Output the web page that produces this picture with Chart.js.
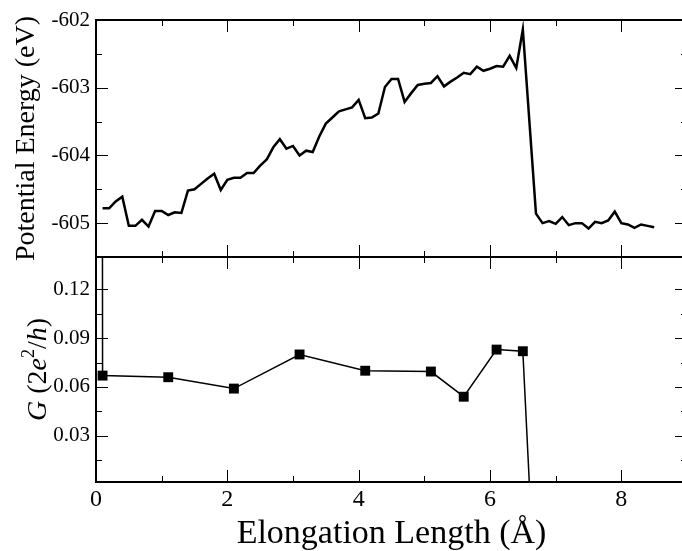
<!DOCTYPE html>
<html>
<head>
<meta charset="utf-8">
<script src="https://cdn.jsdelivr.net/npm/chart.js@4.4.1/dist/chart.umd.min.js"></script>
<style>
html, body { margin: 0; padding: 0; background: #fff; }
#wrap { width: 682px; height: 551px; overflow: hidden; position: relative; }
#chart { position: absolute; left: 0; top: 0; }
</style>
</head>
<body>
<div id="wrap"><canvas id="chart" width="690" height="551"></canvas></div>
<script>
// elongation (Å) and potential energy (eV)
var energyX = [0.1, 0.2, 0.3, 0.4, 0.5, 0.6, 0.7, 0.8, 0.9, 1.0,
               1.1, 1.2, 1.3, 1.4, 1.5, 1.6, 1.7, 1.8, 1.9, 2.0,
               2.1, 2.2, 2.3, 2.4, 2.5, 2.6, 2.7, 2.8, 2.9, 3.0,
               3.1, 3.2, 3.3, 3.4, 3.5, 3.6, 3.7, 3.8, 3.9, 4.0,
               4.1, 4.2, 4.3, 4.4, 4.5, 4.6, 4.7, 4.8, 4.9, 5.0,
               5.1, 5.2, 5.3, 5.4, 5.5, 5.6, 5.7, 5.8, 5.9, 6.0,
               6.1, 6.2, 6.3, 6.4, 6.5, 6.7, 6.8, 6.9, 7.0,
               7.1, 7.2, 7.3, 7.4, 7.5, 7.6, 7.7, 7.8, 7.9, 8.0,
               8.1, 8.2, 8.3, 8.4, 8.5];
var energyY = [-604.78, -604.78, -604.68, -604.61, -605.04, -605.04, -604.95, -605.05, -604.82, -604.82,
               -604.88, -604.84, -604.85, -604.52, -604.50, -604.42, -604.34, -604.27, -604.51, -604.36,
               -604.33, -604.33, -604.26, -604.26, -604.15, -604.06, -603.88, -603.76, -603.90, -603.86,
               -604.00, -603.93, -603.95, -603.72, -603.53, -603.44, -603.35, -603.32, -603.29, -603.18,
               -603.45, -603.44, -603.38, -602.99, -602.87, -602.87, -603.21, -603.08, -602.96, -602.94,
               -602.93, -602.83, -602.98, -602.91, -602.85, -602.78, -602.80, -602.69, -602.75, -602.72,
               -602.68, -602.69, -602.53, -602.71, -602.14, -604.86, -605.00, -604.97, -605.01,
               -604.91, -605.03, -605.00, -605.00, -605.08, -604.98, -605.00, -604.96, -604.83, -605.00,
               -605.02, -605.07, -605.02, -605.04, -605.06];

// conductance G (2e^2/h)
var condX = [0.09, 0.1, 1.1, 2.1, 3.1, 4.1, 5.1, 5.6, 6.1, 6.5, 6.6];
var condY = [0.5, 0.067, 0.066, 0.059, 0.080, 0.070, 0.0695, 0.054, 0.083, 0.082, 0.0];

var xTicks = [0, 2, 4, 6, 8];
var energyTicks = [-605, -604, -603, -602];
var condTicks = [0.03, 0.06, 0.09, 0.12];

var serif = '"Liberation Serif", "DejaVu Serif", serif';

function pairs(xs, ys) {
    return xs.map(function (x, i) { return {x: x, y: ys[i]}; });
}

function setTicks(list) {
    return function (scale) {
        scale.ticks = list.map(function (v) { return {value: v}; });
    };
}

// draw a run of text pieces (italic / superscript) centred on 0
function richText(ctx, parts, size) {
    var total = 0;
    parts.forEach(function (p) {
        ctx.font = (p.it ? 'italic ' : '') + (p.sup ? size * 0.65 : size) + 'px ' + serif;
        p.w = ctx.measureText(p.t).width;
        total += p.w;
    });
    var pos = -total / 2;
    parts.forEach(function (p) {
        ctx.font = (p.it ? 'italic ' : '') + (p.sup ? size * 0.65 : size) + 'px ' + serif;
        ctx.fillText(p.t, pos, p.sup ? -size * 0.42 : 0);
        pos += p.w;
    });
}

var frame = {
    id: 'frame',
    beforeDatasetDraw: function (chart, args) {
        var x = chart.scales.x, y = args.meta.yScale, ctx = chart.ctx;
        ctx.save();
        ctx.beginPath();
        ctx.rect(x.left, y.top, x.right - x.left, y.bottom - y.top);
        ctx.clip();
    },
    afterDatasetDraw: function (chart) {
        chart.ctx.restore();
    },
    afterDraw: function (chart) {
        var ctx = chart.ctx, x = chart.scales.x;
        var panels = [
            {s: chart.scales.yTop, major: energyTicks, step: 0.5},
            {s: chart.scales.yBot, major: condTicks, step: 0.015}
        ];
        ctx.save();
        ctx.strokeStyle = '#000';
        ctx.lineWidth = 1;
        panels.forEach(function (p) {
            var y = p.s, top = y.top, bot = y.bottom;
            ctx.beginPath();
            for (var v = 0; v <= 9.001; v += 1) {
                var px = Math.round(x.getPixelForValue(v)) + 0.5;
                var len = (Math.round(v) % 2 === 0) ? 12 : 6;
                ctx.moveTo(px, bot); ctx.lineTo(px, bot - len);
                ctx.moveTo(px, top); ctx.lineTo(px, top + len);
            }
            p.major.forEach(function (m) {
                [m - p.step, m].forEach(function (v, k) {
                    if (v <= y.min || v >= y.max) return;
                    var py = Math.round(y.getPixelForValue(v)) + 0.5;
                    var len = k === 1 ? 12 : 6;
                    ctx.moveTo(x.left, py); ctx.lineTo(x.left + len, py);
                    ctx.moveTo(x.right, py); ctx.lineTo(x.right - len, py);
                });
            });
            ctx.stroke();
        });
        ctx.lineWidth = 2;
        panels.forEach(function (p) {
            ctx.strokeRect(x.left, p.s.top, x.right - x.left, p.s.bottom - p.s.top);
        });

        ctx.fillStyle = '#000';
        ctx.textAlign = 'left';
        ctx.textBaseline = 'alphabetic';
        // x title
        ctx.save();
        ctx.translate((x.left + x.right) / 2, 543);
        richText(ctx, [{t: 'Elongation Length (Å)'}], 34);
        ctx.restore();
        // energy title
        var yt = chart.scales.yTop;
        ctx.save();
        ctx.translate(34, (yt.top + yt.bottom) / 2);
        ctx.rotate(-Math.PI / 2);
        richText(ctx, [{t: 'Potential Energy (eV)'}], 28);
        ctx.restore();
        // conductance title
        var yb = chart.scales.yBot;
        ctx.save();
        ctx.translate(46, (yb.top + yb.bottom) / 2);
        ctx.rotate(-Math.PI / 2);
        richText(ctx, [
            {t: 'G', it: true}, {t: ' (2'}, {t: 'e', it: true}, {t: '2', sup: true},
            {t: '/'}, {t: 'h', it: true}, {t: ')'}
        ], 28);
        ctx.restore();
        ctx.restore();
    }
};

var ctx = document.getElementById('chart').getContext('2d');
var chart = new Chart(ctx, {
    type: 'line',
    data: {
        datasets: [{
            label: 'Potential Energy',
            data: pairs(energyX, energyY),
            yAxisID: 'yTop',
            borderColor: '#000',
            borderWidth: 2.5,
            pointRadius: 0,
            tension: 0,
            fill: false
        }, {
            label: 'G',
            data: pairs(condX, condY),
            yAxisID: 'yBot',
            borderColor: '#000',
            backgroundColor: '#000',
            borderWidth: 1.5,
            pointStyle: 'rect',
            pointRadius: function (c) {
                var v = c.raw && c.raw.y;
                return (v > 0.005 && v < 0.14) ? 7 : 0;
            },
            pointBorderWidth: 0,
            tension: 0,
            fill: false
        }]
    },
    options: {
        responsive: false,
        animation: false,
        layout: {padding: {top: 20, right: 3, left: 0, bottom: 0}},
        plugins: {legend: {display: false}, tooltip: {enabled: false}},
        scales: {
            x: {
                type: 'linear',
                min: 0,
                max: 9,
                afterBuildTicks: setTicks(xTicks),
                afterFit: function (s) { s.height = 69; },
                grid: {display: false, drawTicks: false},
                border: {display: false},
                ticks: {
                    autoSkip: false, maxRotation: 0, padding: 3, color: '#000',
                    font: {family: serif, size: 24},
                    callback: function (v) { return String(v); }
                }
            },
            yTop: {
                type: 'linear',
                position: 'left',
                stack: 'panels',
                stackWeight: 237,
                weight: 1,
                min: -605.5,
                max: -602,
                afterBuildTicks: setTicks(energyTicks),
                afterFit: function (s) { s.width = 96; },
                grid: {display: false, drawTicks: false},
                border: {display: false},
                ticks: {
                    autoSkip: false, padding: 6, color: '#000',
                    font: {family: serif, size: 21},
                    callback: function (v) { return String(v); }
                }
            },
            yBot: {
                type: 'linear',
                position: 'left',
                stack: 'panels',
                stackWeight: 225,
                weight: 0,
                min: 0.0015,
                max: 0.14,
                afterBuildTicks: setTicks(condTicks),
                afterFit: function (s) { s.width = 96; },
                grid: {display: false, drawTicks: false},
                border: {display: false},
                ticks: {
                    autoSkip: false, padding: 6, color: '#000',
                    font: {family: serif, size: 21},
                    callback: function (v) { return v.toFixed(2); }
                }
            }
        }
    },
    plugins: [frame]
});
</script>
</body>
</html>
